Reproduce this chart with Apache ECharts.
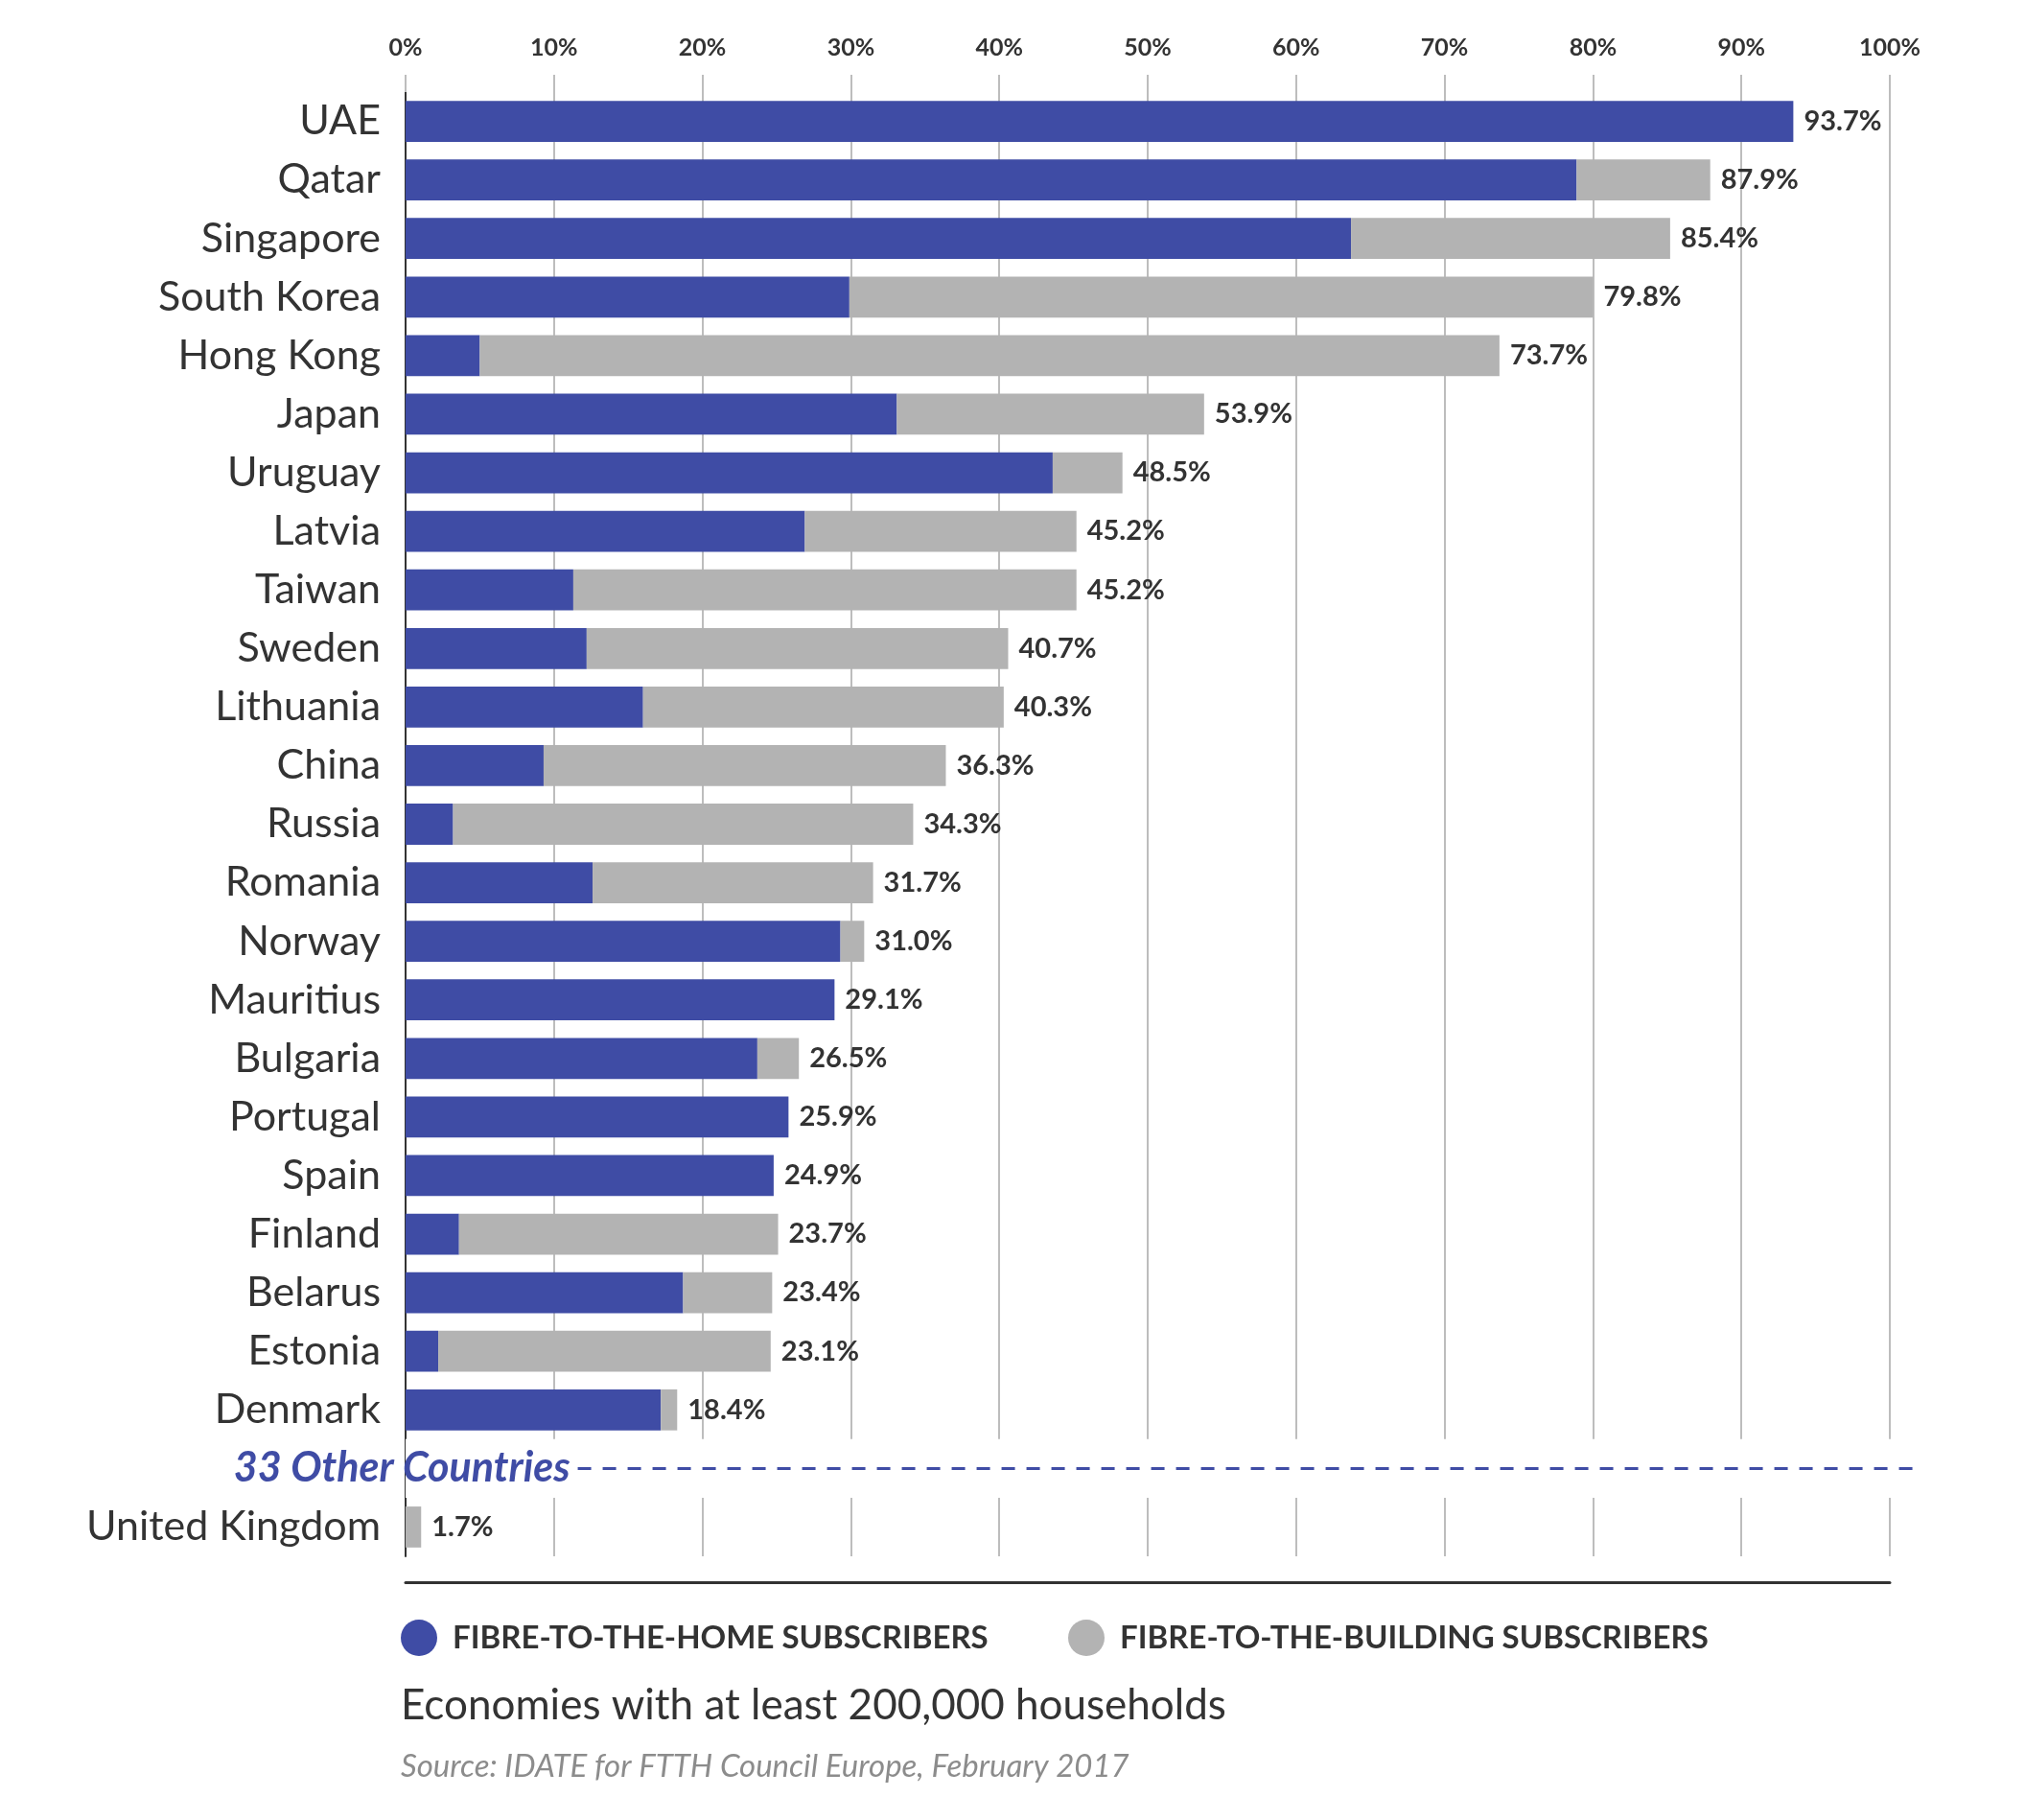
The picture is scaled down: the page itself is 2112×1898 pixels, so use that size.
<!DOCTYPE html>
<html><head><meta charset="utf-8">
<script src="https://cdn.jsdelivr.net/npm/echarts@6/dist/echarts.min.js"></script>
<style>html,body{margin:0;padding:0;background:#fff}#c{width:2112px;height:1898px}</style>
</head><body><div id="c"></div>
<script>
const countries = ['UAE','Qatar','Singapore','South Korea','Hong Kong','Japan','Uruguay','Latvia','Taiwan','Sweden','Lithuania','China','Russia','Romania','Norway','Mauritius','Bulgaria','Portugal','Spain','Finland','Belarus','Estonia','Denmark','','United Kingdom'];
const homeValues = [93.5,78.9,63.7,29.9,5.0,33.1,43.6,26.9,11.3,12.2,16.0,9.3,3.2,12.6,29.3,28.9,23.7,25.8,24.8,3.6,18.7,2.2,17.2,'-',0];
const buildingValues = [0,9.0,21.5,50.1,68.7,20.7,4.7,18.3,33.9,28.4,24.3,27.1,31.0,18.9,1.6,0,2.8,0,0,21.5,6.0,22.4,1.1,'-',1.05];
const totalLabels = ['93.7%','87.9%','85.4%','79.8%','73.7%','53.9%','48.5%','45.2%','45.2%','40.7%','40.3%','36.3%','34.3%','31.7%','31.0%','29.1%','26.5%','25.9%','24.9%','23.7%','23.4%','23.1%','18.4%','','1.7%'];
const gapCover = ['-','-','-','-','-','-','-','-','-','-','-','-','-','-','-','-','-','-','-','-','-','-','-',101,'-'];
const xTickLabels = ['0%','10%','20%','30%','40%','50%','60%','70%','80%','90%','100%'];
const seriesNames = ['FIBRE-TO-THE-HOME SUBSCRIBERS','FIBRE-TO-THE-BUILDING SUBSCRIBERS'];
const otherLabel = '33 Other Countries';
const gapIndex = 23;

const BLUE = '#3F4CA5', GREY = '#B3B3B3', TXT = '#333333', GRID = '#BDBDBD';
const FONT = 'Lato';

const chart = echarts.init(document.getElementById('c'), null, {renderer: 'canvas'});
chart.setOption({
  backgroundColor: '#ffffff',
  animation: false,
  textStyle: {fontFamily: FONT},
  title: [
    {text: 'Economies with at least 200,000 households', left: 418, top: 1757, padding: 0,
     textStyle: {fontFamily: FONT, fontSize: 44, fontWeight: 'normal', color: TXT}},
    {text: 'Source: IDATE for FTTH Council Europe, February 2017', left: 418, top: 1826, padding: 0,
     textStyle: {fontFamily: FONT, fontSize: 33, fontStyle: 'italic', fontWeight: 'normal', color: '#8c8c8c'}}
  ],
  legend: [
    {data: [seriesNames[0]], left: 418, top: 1689, padding: 0, icon: 'circle', itemWidth: 38, itemHeight: 38,
     textStyle: {fontFamily: FONT, fontSize: 33, fontWeight: 'bold', color: TXT, padding: [0,0,0,11]}},
    {data: [seriesNames[1]], left: 1114, top: 1689, padding: 0, icon: 'circle', itemWidth: 38, itemHeight: 38,
     textStyle: {fontFamily: FONT, fontSize: 33, fontWeight: 'bold', color: TXT, padding: [0,0,0,11]}}
  ],
  grid: {left: 423, right: 141, top: 96, height: 1527, containLabel: false},
  xAxis: [
    {type: 'value', position: 'top', min: 0, max: 100, interval: 10,
     axisLine: {show: false},
     axisTick: {show: true, length: 18, lineStyle: {color: GRID, width: 2}},
     splitLine: {show: true, lineStyle: {color: GRID, width: 2}},
     axisLabel: {margin: 34, fontFamily: FONT, fontSize: 25, fontWeight: 'bold', color: TXT,
       formatter: v => xTickLabels[Math.round(v / 10)]}},
    {type: 'value', position: 'bottom', offset: 27, min: 0, max: 100,
     axisLine: {show: true, lineStyle: {color: TXT, width: 3}},
     axisTick: {show: false}, axisLabel: {show: false}, splitLine: {show: false}}
  ],
  yAxis: [
    {type: 'category', inverse: true, data: countries,
     axisLine: {show: true, lineStyle: {color: TXT, width: 2}},
     axisTick: {show: false},
     axisLabel: {margin: 26, fontFamily: FONT, fontSize: 43, color: TXT}},
    {type: 'category', inverse: true, data: countries, show: false}
  ],
  series: [
    {name: seriesNames[0], type: 'bar', stack: 'total', data: homeValues, barWidth: '70%',
     itemStyle: {color: BLUE}, silent: true},
    {name: seriesNames[1], type: 'bar', stack: 'total', data: buildingValues, barWidth: '70%',
     itemStyle: {color: GREY}, silent: true,
     label: {show: true, position: 'right', distance: 11, fontFamily: FONT, fontSize: 29,
       fontWeight: 'bold', color: TXT, formatter: p => totalLabels[p.dataIndex]}},
    {name: 'gap', type: 'bar', yAxisIndex: 1, data: gapCover, barWidth: '100%', clip: false, silent: true,
     itemStyle: {color: '#ffffff', borderColor: '#ffffff', borderWidth: 4},
     markLine: {
       silent: true, symbol: ['none','none'], animation: false,
       lineStyle: {color: BLUE, width: 3, type: [14, 12]},
       label: {show: true, position: 'start', distance: 8, formatter: otherLabel,
         fontFamily: FONT, fontSize: 43, fontStyle: 'italic', fontWeight: 'bold', color: BLUE},
       data: [[{coord: [11.6, gapIndex]}, {coord: [100, gapIndex], x: '94.9%'}]]
     }}
  ]
});
</script></body></html>
